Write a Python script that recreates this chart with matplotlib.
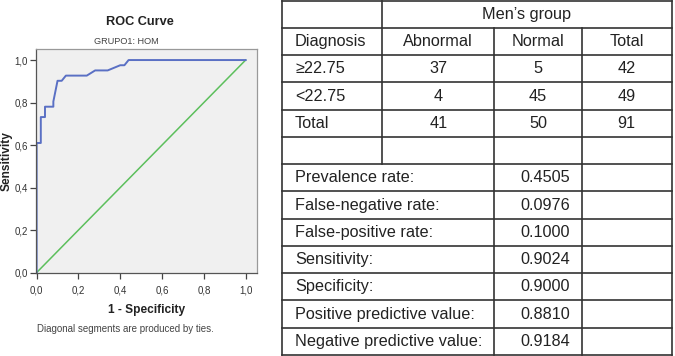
import matplotlib
matplotlib.use("Agg")
import matplotlib.pyplot as plt
from matplotlib.ticker import FuncFormatter

plt.rcParams['font.family'] = ['Liberation Sans', 'DejaVu Sans']

# ROC data (1 - specificity, sensitivity)
fpr = [0.0, 0.0, 0.02, 0.02, 0.04, 0.04, 0.08, 0.08, 0.10, 0.12, 0.14, 0.24, 0.28, 0.34, 0.40, 0.42, 0.44, 1.0]
tpr = [0.0, 0.6098, 0.6098, 0.7317, 0.7317, 0.7805, 0.7805, 0.8049, 0.9024, 0.9024, 0.9268, 0.9268, 0.9512, 0.9512, 0.9756, 0.9756, 1.0, 1.0]
ref_line = [0.0, 1.0]
ticks = [0.0, 0.2, 0.4, 0.6, 0.8, 1.0]

# Table data
group_header = "Men’s group"
col_headers = ["Diagnosis", "Abnormal", "Normal", "Total"]
row_labels = ["≥22.75", "<22.75", "Total"]
abnormal = [37, 4, 41]
normal = [5, 45, 50]
totals = [42, 49, 91]
stat_labels = ["Prevalence rate:", "False-negative rate:", "False-positive rate:",
               "Sensitivity:", "Specificity:", "Positive predictive value:",
               "Negative predictive value:"]
stat_values = ["0.4505", "0.0976", "0.1000", "0.9024", "0.9000", "0.8810", "0.9184"]

W, H = 675, 356
fig = plt.figure(figsize=(W / 100, H / 100), dpi=100)
fig.patch.set_facecolor('white')

# ---------- ROC chart ----------
ax = fig.add_axes([36 / W, 1 - 273 / H, (256.7 - 36) / W, (273 - 49) / H])
ax.set_facecolor('#f0f0f0')
ax.plot(ref_line, ref_line, color='#5cbf5c', lw=1.1)
ax.plot(fpr, tpr, color='#5a70c4', lw=1.4)
ax.set_xlim(-0.003, 1.053)
ax.set_ylim(-0.002, 1.052)
ax.set_xticks(ticks)
ax.set_yticks(ticks)
fmt = FuncFormatter(lambda v, p: f"{v:.1f}".replace('.', ','))
ax.xaxis.set_major_formatter(fmt)
ax.yaxis.set_major_formatter(fmt)
ax.tick_params(direction='out', length=4, width=0.9, colors='#444', labelsize=7,
               labelcolor='#333')
ax.tick_params(axis='x', pad=5)
ax.tick_params(axis='y', pad=2)
for s in ['left', 'bottom']:
    ax.spines[s].set_color('#555')
    ax.spines[s].set_linewidth(0.9)
for s in ['top', 'right']:
    ax.spines[s].set_color('#999')
    ax.spines[s].set_linewidth(0.9)
ax.set_xlabel("1 - Specificity", fontsize=8.6, fontweight='bold', color='#222', labelpad=6)

fig.text(6.5 / W, 1 - 161 / H, "Sensitivity", rotation=90, ha='center', va='center',
         fontsize=8.6, fontweight='bold', color='#222')
fig.text(140 / W, 1 - 21.7 / H, "ROC Curve", ha='center', va='center',
         fontsize=9.2, fontweight='bold', color='#222')
fig.text(126 / W, 1 - 41.7 / H, "GRUPO1: HOM", ha='center', va='center',
         fontsize=6.6, color='#444')
fig.text(125.5 / W, 1 - 329 / H, "Diagonal segments are produced by ties.", ha='center',
         va='center', fontsize=7, color='#444')

# ---------- Table ----------
tx = fig.add_axes([0, 0, 1, 1])
tx.set_xlim(0, W)
tx.set_ylim(H, 0)
tx.axis('off')
tx.patch.set_alpha(0)

cols = [281.7, 382.3, 494.3, 581.7, 671.7]
y0, rh = 0.6, (355 - 0.6) / 13
rows = [y0 + i * rh for i in range(14)]
lc, lw = '#333333', 1.2

def hline(y, xa, xb):
    tx.plot([xa, xb], [y, y], color=lc, lw=lw, solid_capstyle='projecting')

def vline(x, ya, yb):
    tx.plot([x, x], [ya, yb], color=lc, lw=lw, solid_capstyle='projecting')

for y in rows:
    hline(y, cols[0], cols[-1])
vline(cols[0], rows[0], rows[13])
vline(cols[4], rows[0], rows[13])
vline(cols[1], rows[0], rows[6])
vline(cols[2], rows[1], rows[13])
vline(cols[3], rows[1], rows[13])

fs = 11.7
tc = '#222222'
lx = 295

def cy(i):
    return (rows[i] + rows[i + 1]) / 2

def ccx(j):
    return (cols[j] + cols[j + 1]) / 2

tx.text((cols[1] + cols[4]) / 2, cy(0), group_header, ha='center', va='center', fontsize=fs, color=tc)
tx.text(lx, cy(1), col_headers[0], ha='left', va='center', fontsize=fs, color=tc)
for j in range(1, 4):
    tx.text(ccx(j), cy(1), col_headers[j], ha='center', va='center', fontsize=fs, color=tc)
for i, lab in enumerate(row_labels):
    r = 2 + i
    tx.text(lx, cy(r), lab, ha='left', va='center', fontsize=fs, color=tc)
    tx.text(ccx(1), cy(r), str(abnormal[i]), ha='center', va='center', fontsize=fs, color=tc)
    tx.text(ccx(2), cy(r), str(normal[i]), ha='center', va='center', fontsize=fs, color=tc)
    tx.text(ccx(3), cy(r), str(totals[i]), ha='center', va='center', fontsize=fs, color=tc)
for i, (lab, val) in enumerate(zip(stat_labels, stat_values)):
    r = 6 + i
    tx.text(lx, cy(r), lab, ha='left', va='center', fontsize=fs, color=tc)
    tx.text(570, cy(r), val, ha='right', va='center', fontsize=fs, color=tc)

fig.savefig("out.png", dpi=100, facecolor='white')
